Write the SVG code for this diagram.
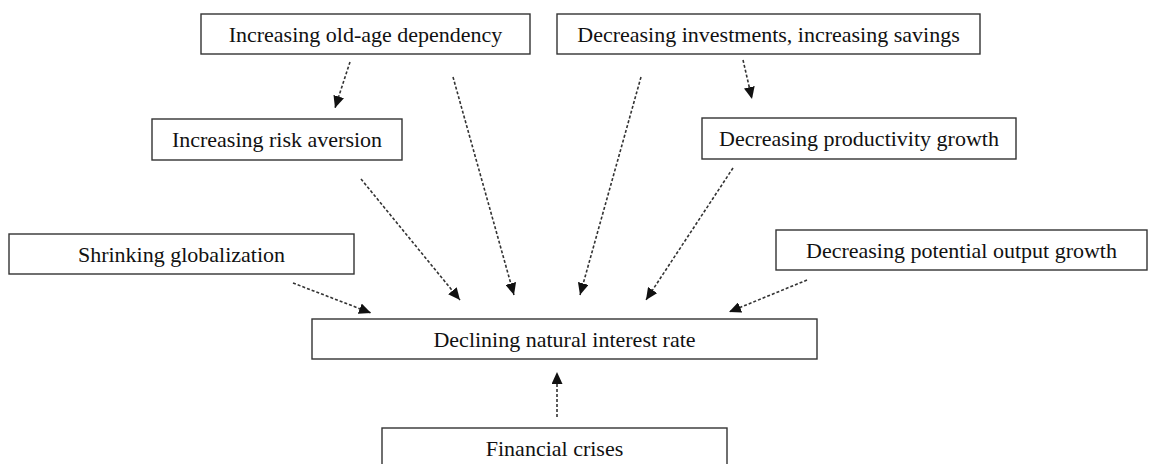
<svg xmlns="http://www.w3.org/2000/svg" width="1155" height="464" viewBox="0 0 1155 464">
<style>
.box{fill:#fff;stroke:#333;stroke-width:1.4}
.lbl{font-family:"Liberation Serif","Times New Roman",serif;font-size:22px;fill:#111;text-anchor:middle}
.con{stroke:#333;stroke-width:1.6;stroke-dasharray:3 2;fill:none;marker-end:url(#ah)}
</style>
<defs>
<marker id="ah" markerUnits="userSpaceOnUse" markerWidth="12" markerHeight="11" refX="12" refY="5.5" orient="auto">
<path d="M0,0 L12,5.5 L0,11 z" fill="#111"/>
</marker>
</defs>
<rect width="1155" height="464" fill="#fff"/>
<g id="connectors">
<line class="con" x1="350" y1="62" x2="335" y2="108"/>
<line class="con" x1="453" y1="77" x2="514" y2="295"/>
<line class="con" x1="743" y1="60" x2="752" y2="99"/>
<line class="con" x1="641" y1="77" x2="580" y2="295"/>
<line class="con" x1="361" y1="179" x2="460" y2="300"/>
<line class="con" x1="733" y1="168" x2="646" y2="300"/>
<line class="con" x1="293" y1="283" x2="371" y2="313"/>
<line class="con" x1="807" y1="280" x2="729" y2="312"/>
<line class="con" x1="557" y1="417" x2="557" y2="372"/>
</g>
<g id="old-age">
<rect class="box" x="201" y="14" width="329" height="40"/>
<text class="lbl" x="365.5" y="41.5">Increasing old-age dependency</text>
</g>
<g id="investments">
<rect class="box" x="557" y="14" width="423" height="40"/>
<text class="lbl" x="768.5" y="41.5">Decreasing investments, increasing savings</text>
</g>
<g id="risk">
<rect class="box" x="152" y="119" width="250" height="41"/>
<text class="lbl" x="277" y="147">Increasing risk aversion</text>
</g>
<g id="productivity">
<rect class="box" x="702" y="118" width="314" height="41"/>
<text class="lbl" x="859" y="146">Decreasing productivity growth</text>
</g>
<g id="globalization">
<rect class="box" x="9" y="234" width="345" height="40"/>
<text class="lbl" x="181.5" y="261.5">Shrinking globalization</text>
</g>
<g id="potential">
<rect class="box" x="776" y="230" width="371" height="40"/>
<text class="lbl" x="961.5" y="257.5">Decreasing potential output growth</text>
</g>
<g id="natural-rate">
<rect class="box" x="312" y="319" width="505" height="40"/>
<text class="lbl" x="564.5" y="346.5">Declining natural interest rate</text>
</g>
<g id="crises">
<rect class="box" x="382" y="428" width="345" height="40"/>
<text class="lbl" x="554.5" y="455.5">Financial crises</text>
</g>
</svg>
